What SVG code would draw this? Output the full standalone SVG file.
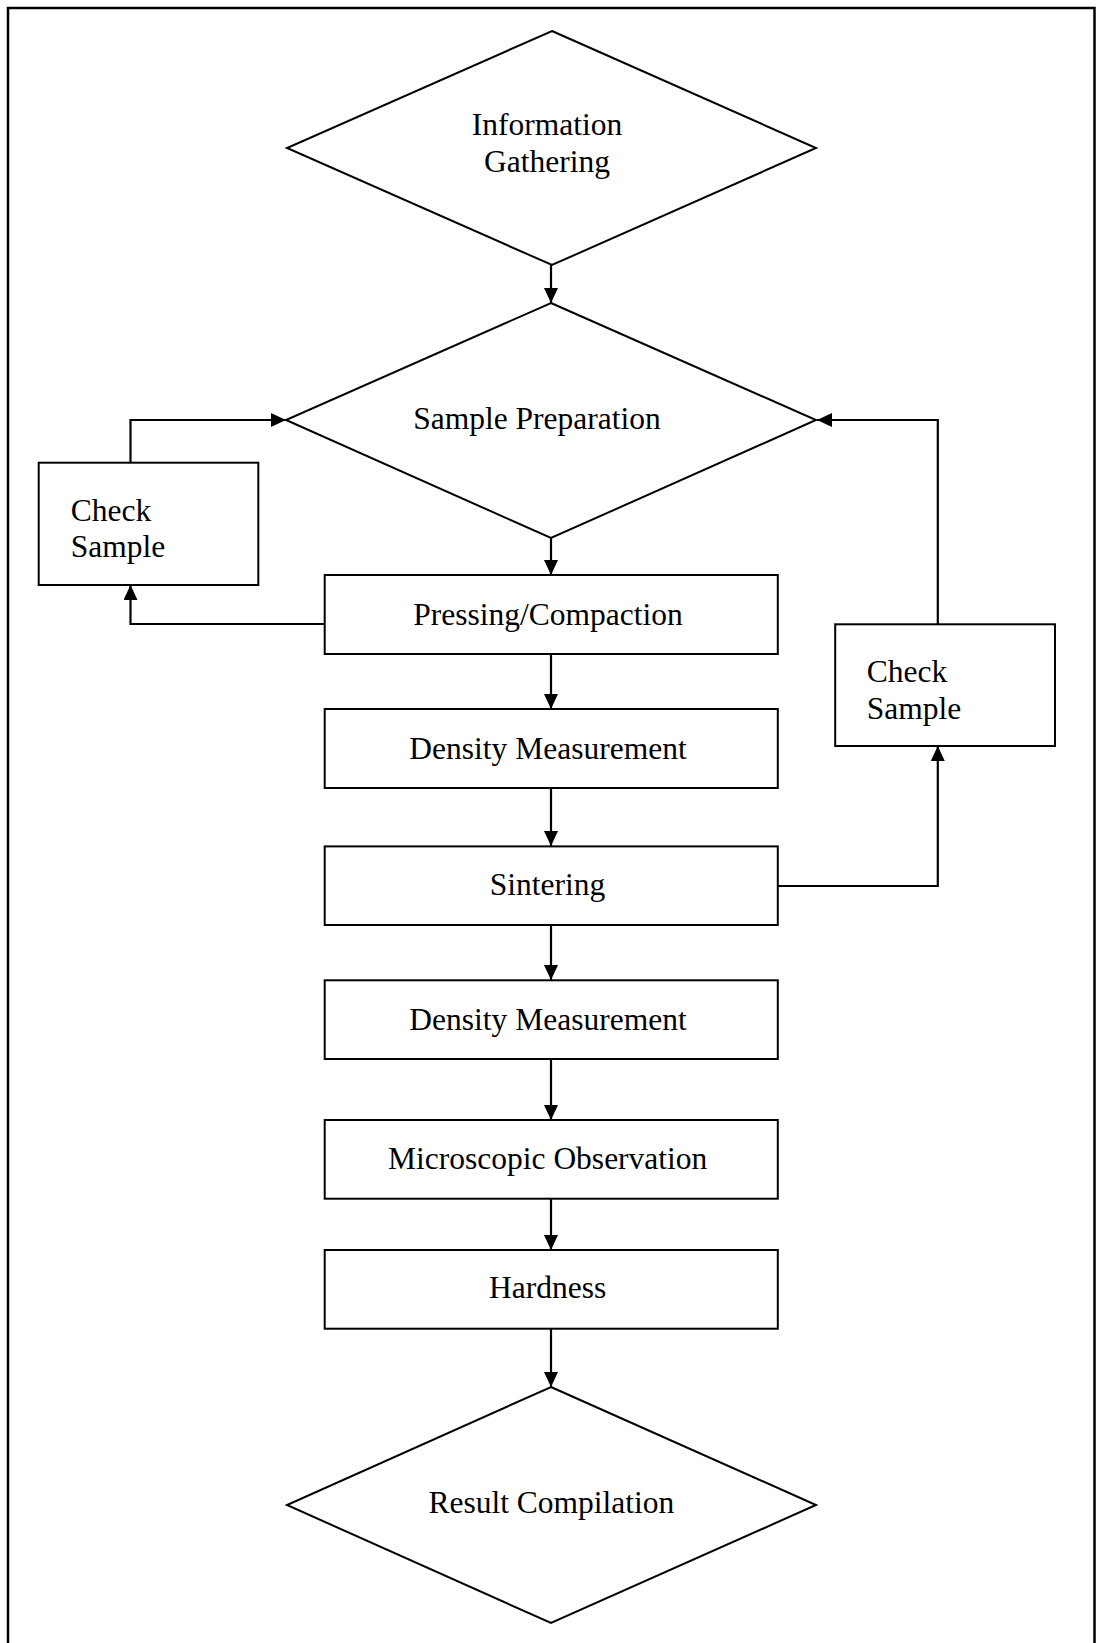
<svg xmlns="http://www.w3.org/2000/svg" width="1096" height="1643" viewBox="0 0 1096 1643">
<style>
.shape{fill:#fff;stroke:#000;stroke-width:2}
.conn{fill:none;stroke:#000;stroke-width:2.2}
.lbl{font-family:"Liberation Serif","Times New Roman",serif;font-size:31.5px;fill:#000}
.c{text-anchor:middle}
</style>
<defs>
<marker id="ah" markerUnits="userSpaceOnUse" markerWidth="16" markerHeight="14" refX="15" refY="7" orient="auto">
<path d="M0,0 L15,7 L0,14 Z" fill="#000"/>
</marker>
</defs>
<rect width="1096" height="1643" fill="#fff"/>
<path d="M8,1645 V8 H1094.5 V1645" fill="none" stroke="#000" stroke-width="2.5"/>
<g id="connectors">
<path class="conn" d="M551,265 V303" marker-end="url(#ah)"/>
<path class="conn" d="M551,538 V575" marker-end="url(#ah)"/>
<path class="conn" d="M551,654 V709" marker-end="url(#ah)"/>
<path class="conn" d="M551,788 V846" marker-end="url(#ah)"/>
<path class="conn" d="M551,925 V980" marker-end="url(#ah)"/>
<path class="conn" d="M551,1059 V1120" marker-end="url(#ah)"/>
<path class="conn" d="M551,1199 V1250" marker-end="url(#ah)"/>
<path class="conn" d="M551,1329 V1387" marker-end="url(#ah)"/>
<path class="conn" d="M324.7,624 H130.5 V585" marker-end="url(#ah)"/>
<path class="conn" d="M130.5,463 V420 H286" marker-end="url(#ah)"/>
<path class="conn" d="M777.8,886 H937.8 V746" marker-end="url(#ah)"/>
<path class="conn" d="M937.8,624 V420 H817" marker-end="url(#ah)"/>
</g>
<g id="info-gathering">
<polygon class="shape" points="552,31 816,148 552,265 287,148"/>
<text class="lbl c" x="547" y="135">Information</text>
<text class="lbl c" x="547" y="171.5">Gathering</text>
</g>
<g id="sample-preparation">
<polygon class="shape" points="551,303 816,420 551,538 286,420"/>
<text class="lbl c" x="537" y="429">Sample Preparation</text>
</g>
<g id="check-sample-left">
<rect class="shape" x="38.7" y="462.7" width="219.6" height="122.3"/>
<text class="lbl" x="70.8" y="520.7">Check</text>
<text class="lbl" x="70.8" y="557">Sample</text>
</g>
<g id="pressing">
<rect class="shape" x="324.7" y="575" width="453.1" height="79"/>
<text class="lbl c" x="548" y="625">Pressing/Compaction</text>
</g>
<g id="density-1">
<rect class="shape" x="324.7" y="709" width="453.1" height="79"/>
<text class="lbl c" x="548" y="758.5">Density Measurement</text>
</g>
<g id="check-sample-right">
<rect class="shape" x="835.2" y="624.3" width="219.8" height="121.7"/>
<text class="lbl" x="866.8" y="681.8">Check</text>
<text class="lbl" x="866.8" y="718.6">Sample</text>
</g>
<g id="sintering">
<rect class="shape" x="324.7" y="846.4" width="453.1" height="78.6"/>
<text class="lbl c" x="547.5" y="894.5">Sintering</text>
</g>
<g id="density-2">
<rect class="shape" x="324.7" y="980.3" width="453.1" height="78.7"/>
<text class="lbl c" x="548" y="1030">Density Measurement</text>
</g>
<g id="microscopic">
<rect class="shape" x="324.7" y="1120" width="453.1" height="78.7"/>
<text class="lbl c" x="547.7" y="1169.3">Microscopic Observation</text>
</g>
<g id="hardness">
<rect class="shape" x="324.7" y="1250" width="453.1" height="78.7"/>
<text class="lbl c" x="547.6" y="1298.3">Hardness</text>
</g>
<g id="result-compilation">
<polygon class="shape" points="551,1387 816,1505 551,1623 287,1505"/>
<text class="lbl c" x="551.4" y="1513.3">Result Compilation</text>
</g>
</svg>
